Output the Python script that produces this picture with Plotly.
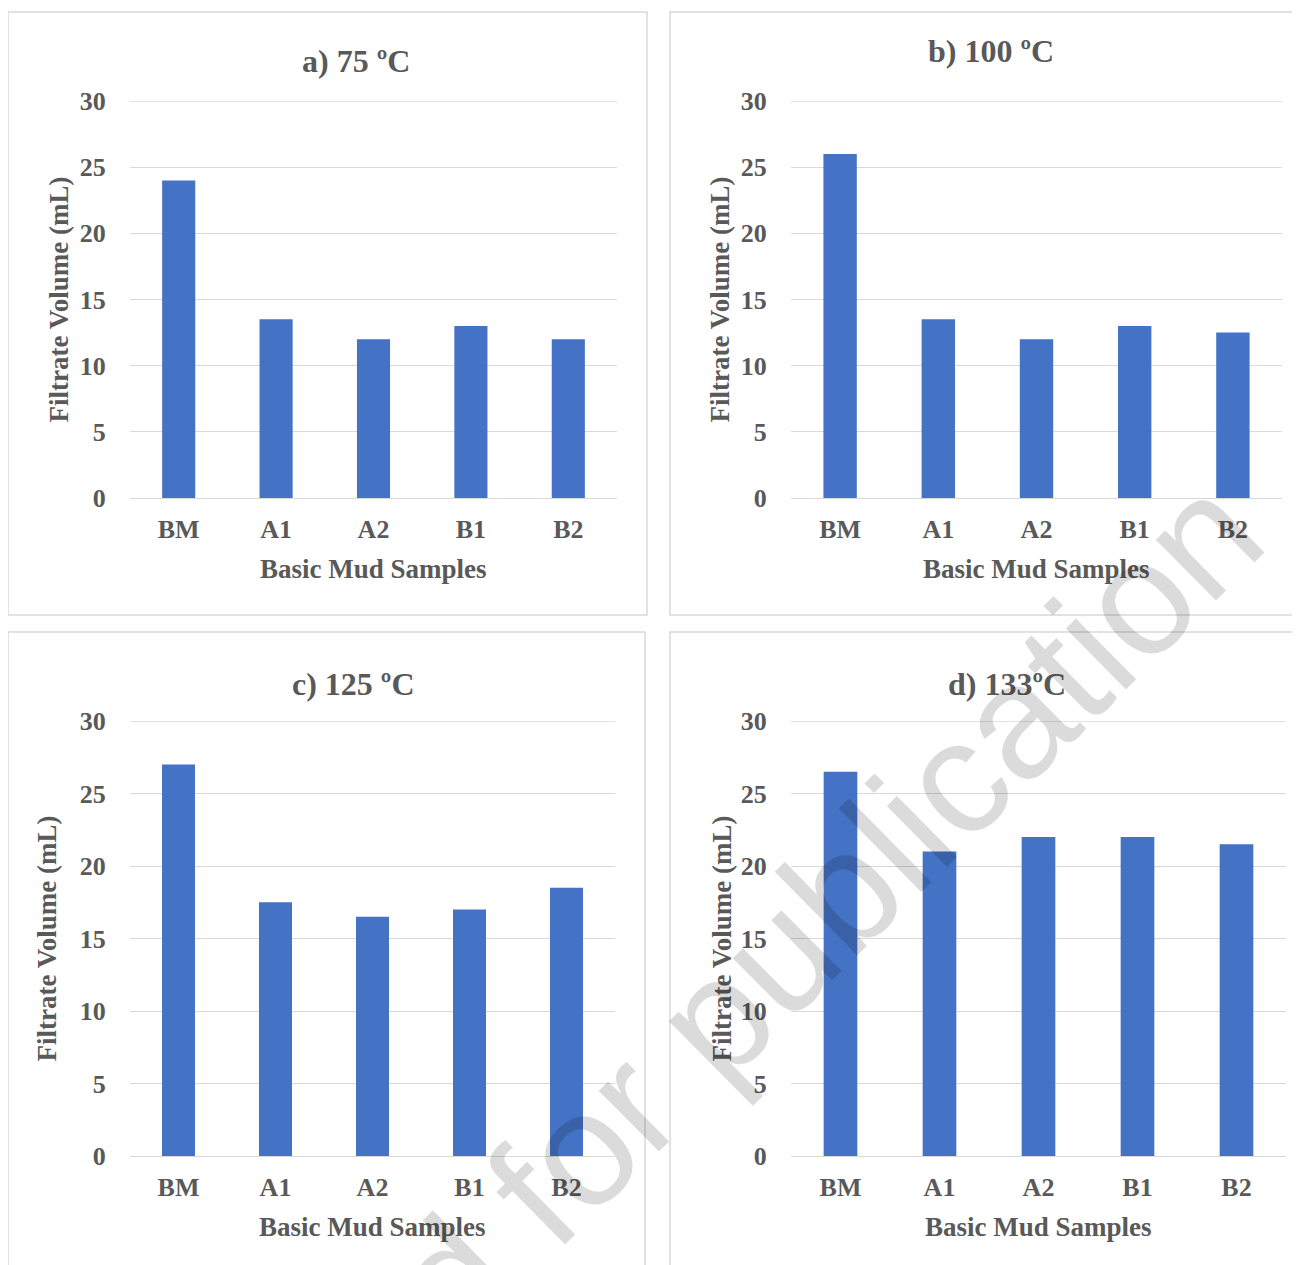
import plotly.graph_objects as go

W, H = 1300, 1265
OFF = 8  # page body margin in the browser

samples = ["BM", "A1", "A2", "B1", "B2"]
vol_75 = [24, 13.5, 12, 13, 12]
vol_100 = [26, 13.5, 12, 13, 12.5]
vol_125 = [27, 17.5, 16.5, 17, 18.5]
vol_133 = [26.5, 21, 22, 22, 21.5]
titles = ["a) 75 ºC", "b) 100 ºC", "c) 125 ºC", "d) 133ºC"]
y_ticks = [0, 5, 10, 15, 20, 25, 30]
x_title = "Basic Mud Samples"
y_title = "Filtrate Volume (mL)"
watermark = "Accepted for publication"

series = [vol_75, vol_100, vol_125, vol_133]

# pixel layouts (left, right, top, bottom) of plot areas, in screenshot pixels
plot_px = [(130, 617, 101, 498), (791, 1282, 101, 498),
           (130, 615, 721, 1156), (791, 1286, 721, 1156)]
box_px = [(8, 647, 12, 615), (670, 1320, 12, 615),
          (8, 645, 632, 1290), (670, 1320, 632, 1290)]
title_px = [(356, 61), (991, 51), (354, 684), (1007, 684)]
ytitle_x = [58, 719, 46, 721]
xtitle_y = [569, 569, 1227, 1227]

FONT = "Liberation Serif, Times New Roman, serif"
TXT = "#595959"
GRID = "#d9d9d9"
BAR = "#4472C4"

def px(x):
    return (x - OFF) / W

def py(y):
    return 1 - (y - OFF) / H

fig = go.Figure()
layout = dict(width=W, height=H,
              margin=dict(l=0, r=0, t=0, b=0, pad=0, autoexpand=False),
              paper_bgcolor="white", plot_bgcolor="rgba(0,0,0,0)",
              showlegend=False, bargap=0.66,
              font=dict(family=FONT, color=TXT, size=26))
annotations = []
shapes = []

for i, vals in enumerate(series):
    n = "" if i == 0 else str(i + 1)
    fig.add_trace(go.Bar(x=samples, y=vals, marker=dict(color=BAR, line=dict(width=0)),
                         xaxis="x" + n, yaxis="y" + n))
    l, r, t, b = plot_px[i]
    layout["xaxis" + n] = dict(domain=[px(l), px(r)], anchor="y" + n,
                               showgrid=False, showline=False, ticks="outside",
                               ticklen=8, tickcolor="rgba(0,0,0,0)",
                               automargin=False,
                               tickfont=dict(family=FONT, size=26, color=TXT, weight="bold"),
                               fixedrange=True)
    layout["yaxis" + n] = dict(domain=[py(b), py(t)], anchor="x" + n,
                               range=[0, 30], tickvals=y_ticks,
                               showgrid=True, gridcolor=GRID, gridwidth=1.3,
                               zeroline=True, zerolinecolor=GRID, zerolinewidth=1.3,
                               showline=False, ticks="outside", ticklen=18,
                               tickcolor="rgba(0,0,0,0)", automargin=False,
                               tickfont=dict(family=FONT, size=26, color=TXT, weight="bold"),
                               fixedrange=True)
    # top gridline at the axis maximum (plotly skips gridlines on the range edge)
    shapes.append(dict(type="line", xref="x" + n + " domain", yref="y" + n,
                       x0=0, x1=1, y0=y_ticks[-1], y1=y_ticks[-1],
                       line=dict(color=GRID, width=1.3), layer="below"))
    bl, br, bt, bb = box_px[i]
    shapes.append(dict(type="rect", xref="paper", yref="paper",
                       x0=px(bl), x1=px(br), y0=py(bb), y1=py(bt),
                       line=dict(color=GRID, width=1.5), fillcolor="rgba(0,0,0,0)",
                       layer="below"))
    tx, ty = title_px[i]
    annotations.append(dict(text=titles[i], xref="paper", yref="paper",
                            x=px(tx), y=py(ty), showarrow=False,
                            xanchor="center", yanchor="middle",
                            font=dict(family=FONT, size=32, color=TXT, weight="bold")))
    annotations.append(dict(text=x_title, xref="paper", yref="paper",
                            x=px((l + r) / 2), y=py(xtitle_y[i]), showarrow=False,
                            xanchor="center", yanchor="middle",
                            font=dict(family=FONT, size=27, color=TXT, weight="bold")))
    annotations.append(dict(text=y_title, xref="paper", yref="paper",
                            x=px(ytitle_x[i]), y=py((t + b) / 2), showarrow=False,
                            xanchor="center", yanchor="middle", textangle=-90,
                            font=dict(family=FONT, size=27, color=TXT, weight="bold")))

annotations.append(dict(text=watermark, xref="paper", yref="paper",
                        x=px(617), y=py(1113), showarrow=False,
                        xanchor="center", yanchor="middle", textangle=-44.7,
                        font=dict(family="Liberation Sans, Arial, sans-serif", size=162,
                                  color="rgba(0,0,0,0.14)")))

layout["annotations"] = annotations
layout["shapes"] = shapes
fig.update_layout(**layout)
fig.write_html("out.html")
